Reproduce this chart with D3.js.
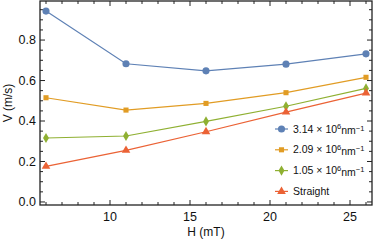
<!DOCTYPE html>
<html>
<head>
<meta charset="utf-8">
<script src="https://cdn.jsdelivr.net/npm/d3@7"></script>
<style>
  body { margin: 0; background: #fff; }
  text { font-family: "Liberation Sans", Arial, sans-serif; }
</style>
</head>
<body>
<svg id="chart" width="374" height="244"></svg>
<script>
const fields = [6, 11, 16, 21, 26];
const curved314 = [0.943, 0.683, 0.648, 0.681, 0.732];
const curved209 = [0.515, 0.454, 0.487, 0.540, 0.616];
const curved105 = [0.316, 0.326, 0.398, 0.473, 0.561];
const straight = [0.176, 0.255, 0.347, 0.444, 0.538];
const seriesLabels = ['3.14', '2.09', '1.05', 'Straight'];
const xTicks = [10, 15, 20, 25];
const yTicks = [0.0, 0.2, 0.4, 0.6, 0.8];

const colours = ['#5e81b5', '#e19c24', '#8fb032', '#eb6235'];
const shapes = [d3.symbolCircle, d3.symbolSquare, d3.symbolDiamond, d3.symbolTriangle];
const sizes = [40, 26, 30, 32];

const series = [curved314, curved209, curved105, straight].map((vals, i) => ({
  label: seriesLabels[i],
  values: vals.map((v, j) => ({h: fields[j], v: v}))
}));

const margin = {left: 40, right: 2, top: 1, bottom: 39};
const width = 374 - margin.left - margin.right;
const height = 244 - margin.top - margin.bottom;

const svg = d3.select('#chart');
const chart = svg.append('g').attr('transform', `translate(${margin.left},${margin.top})`);

const x = d3.scaleLinear().domain([5.625, 26.375]).range([0, width]);
const y = d3.scaleLinear().domain([-0.015, 0.993]).range([height, 0]);

// ticks all round, pointing in
const xMinor = d3.range(6, 27, 1);
const yMinor = d3.range(0, 0.99, 0.05);
const tickCol = '#222';

function tickLines(vals, isMajor, horiz) {
  vals.forEach(t => {
    const len = isMajor(t) ? 5 : 3;
    if (horiz) {
      const px = x(t);
      chart.append('line').attr('x1', px).attr('x2', px).attr('y1', height).attr('y2', height - len)
        .attr('stroke', tickCol).attr('stroke-width', 1);
      chart.append('line').attr('x1', px).attr('x2', px).attr('y1', 0).attr('y2', len)
        .attr('stroke', tickCol).attr('stroke-width', 1);
    } else {
      const py = y(t);
      chart.append('line').attr('x1', 0).attr('x2', len).attr('y1', py).attr('y2', py)
        .attr('stroke', tickCol).attr('stroke-width', 1);
      chart.append('line').attr('x1', width).attr('x2', width - len).attr('y1', py).attr('y2', py)
        .attr('stroke', tickCol).attr('stroke-width', 1);
    }
  });
}
tickLines(xMinor, t => t % 5 === 0, true);
tickLines(yMinor, t => Math.abs(Math.round(t * 5) - t * 5) < 1e-6, false);

chart.append('rect')
  .attr('x', 0).attr('y', 0).attr('width', width).attr('height', height)
  .attr('fill', 'none').attr('stroke', '#222').attr('stroke-width', 1.3);

// tick labels
chart.selectAll('.xlab').data(xTicks).enter().append('text')
  .attr('x', d => x(d)).attr('y', height + 16)
  .attr('text-anchor', 'middle').attr('font-size', 12.5).attr('fill', '#111')
  .text(d => d);

chart.selectAll('.ylab').data(yTicks).enter().append('text')
  .attr('x', -4).attr('y', d => y(d)).attr('dy', '0.35em')
  .attr('text-anchor', 'end').attr('font-size', 12.5).attr('fill', '#111')
  .text(d3.format('.1f'));

svg.append('text')
  .attr('x', margin.left + x(16)).attr('y', 236)
  .attr('text-anchor', 'middle').attr('font-size', 12).attr('fill', '#111')
  .text('H (mT)');

svg.append('text')
  .attr('transform', `translate(12, ${margin.top + height / 2}) rotate(-90)`)
  .attr('text-anchor', 'middle').attr('font-size', 12).attr('fill', '#111')
  .text('V (m/s)');

// series
const line = d3.line().x(d => x(d.h)).y(d => y(d.v));
series.forEach((s, i) => {
  chart.append('path').datum(s.values)
    .attr('d', line).attr('fill', 'none')
    .attr('stroke', colours[i]).attr('stroke-width', 1.2);
  chart.selectAll('.pt' + i).data(s.values).enter().append('path')
    .attr('transform', d => `translate(${x(d.h)},${y(d.v)})`)
    .attr('d', d3.symbol().type(shapes[i]).size(sizes[i]))
    .attr('fill', colours[i]);
});

// legend
const legend = svg.append('g').attr('transform', 'translate(275,129)');
series.forEach((s, i) => {
  const g = legend.append('g').attr('transform', `translate(0,${i * 20.8})`);
  g.append('line').attr('x1', 0).attr('x2', 13).attr('y1', 0).attr('y2', 0)
    .attr('stroke', colours[i]).attr('stroke-width', 1.2);
  g.append('path').attr('transform', 'translate(6.5,0)')
    .attr('d', d3.symbol().type(shapes[i]).size(sizes[i])).attr('fill', colours[i]);
  const t = g.append('text').attr('x', 18).attr('y', 0).attr('dy', '0.35em')
    .attr('font-size', 10.5).attr('fill', '#111');
  if (s.label === 'Straight') {
    t.text('Straight');
  } else {
    t.append('tspan').text(s.label + ' \u00d7 10');
    t.append('tspan').attr('dy', '-0.45em').attr('font-size', 7.5).text('6');
    t.append('tspan').attr('dy', '0.45em').text('nm');
    t.append('tspan').attr('dy', '-0.45em').attr('font-size', 7.5).text('\u22121');
  }
});
</script>
</body>
</html>
